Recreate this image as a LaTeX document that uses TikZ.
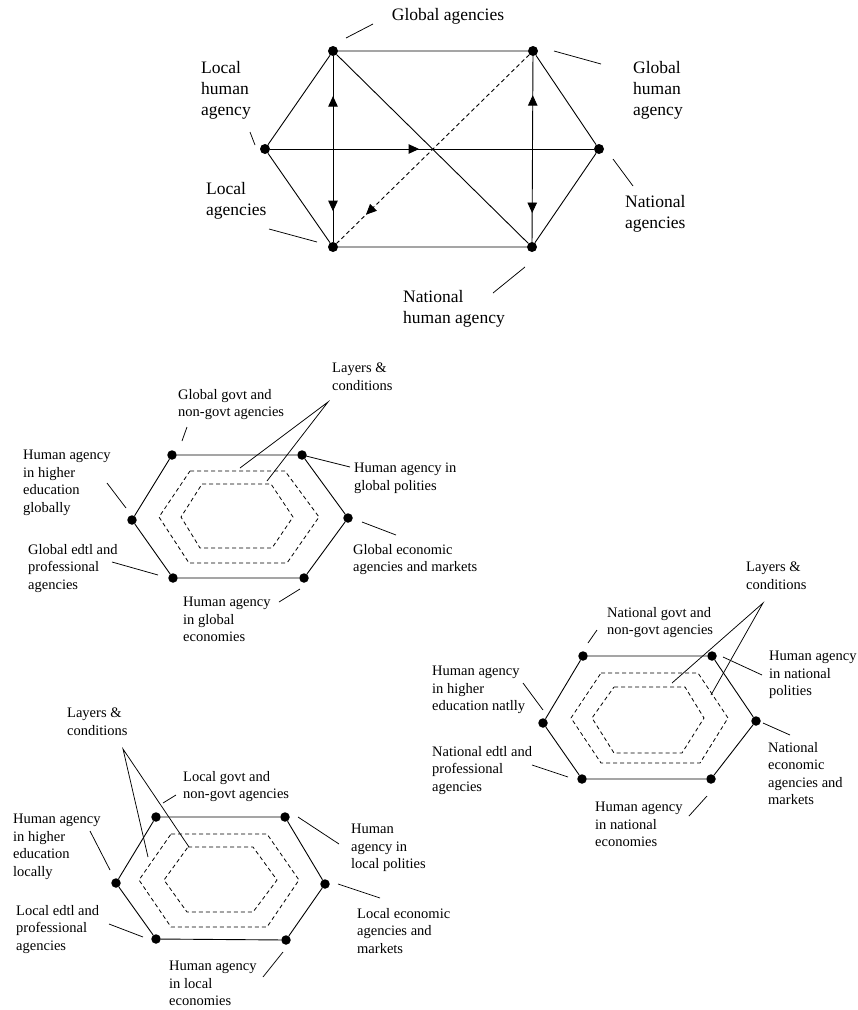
\documentclass[tikz,border=0pt]{standalone}
\usepackage{fontspec}
\setmainfont{Liberation Serif}
\usetikzlibrary{arrows.meta,decorations.markings}

\tikzset{
  dot/.style={circle,fill=black,inner sep=0pt,minimum size=10pt},
  sdot/.style={circle,fill=black,inner sep=0pt,minimum size=9.5pt},
  edge/.style={line width=0.9pt},
  leader/.style={line width=0.75pt},
  layer/.style={line width=0.8pt,dash pattern=on 4pt off 3pt},
  biglabel/.style={font=\fontsize{17.5}{21}\selectfont,inner sep=0pt,align=left,anchor=north west},
  lab/.style={font=\fontsize{14.5}{17.5}\selectfont,inner sep=0pt,align=left,anchor=north west},
  forwardtip/.style={postaction={decorate},decoration={markings,
      mark=at position #1 with {\arrow{Triangle[length=10.5pt,width=9.5pt]}}}},
  twoway/.style 2 args={postaction={decorate},decoration={markings,
      mark=at position #1 with {\arrowreversed{Triangle[length=10.5pt,width=9.5pt]}},
      mark=at position #2 with {\arrow{Triangle[length=10.5pt,width=9.5pt]}}}},
}

\begin{document}
\begin{tikzpicture}[x=1pt,y=-1pt]
\fill[white] (0,0) rectangle (858,1010);
\useasboundingbox (0,0) rectangle (858,1010);

%% ---------------- top: six agencies ----------------
\node[dot] (tl) at (333,51) {};
\node[dot] (tr) at (533,51) {};
\node[dot] (rr) at (599,149) {};
\node[dot] (br) at (532,247) {};
\node[dot] (bl) at (333,247) {};
\node[dot] (ll) at (265,149) {};

\draw[edge] (tl) -- (tr) -- (rr) -- (br) -- (bl) -- (ll) -- (tl);
\draw[edge] (tl) -- (br);
\draw[edge,dash pattern=on 4pt off 3pt,forwardtip=0.848] (tr) -- (bl);
\draw[edge,forwardtip=0.46] (ll) -- (rr);
\draw[edge,twoway={0.215}{0.835}] (tl) -- (bl);
\draw[edge,twoway={0.21}{0.845}] (tr) -- (br);

\node[biglabel,anchor=north] (tga) at (448,8) {Global agencies};
\node[biglabel] (tgha) at (633,61) {Global\\human\\agency};
\node[biglabel] (tlha) at (201,61) {Local\\human\\agency};
\node[biglabel] (tla) at (206,182) {Local\\agencies};
\node[biglabel] (tna) at (625,195) {National\\agencies};
\node[biglabel] (tnha) at (403,290) {National\\human agency};

\coordinate (a1) at (373,24);  \coordinate (a2) at (346,38);
\coordinate (b1) at (554,51);  \coordinate (b2) at (601,64);
\coordinate (c1) at (250,132); \coordinate (c2) at (255,145);
\coordinate (d1) at (269,229); \coordinate (d2) at (317,242);
\coordinate (e1) at (613,159); \coordinate (e2) at (633,186);
\coordinate (f1) at (525,267); \coordinate (f2) at (493,293);
\foreach \p in {a,b,c,d,e,f} \draw[leader] (\p1) -- (\p2);

%% ---------------- global layer ----------------
\node[sdot] (g1) at (172,455) {};
\node[sdot] (g2) at (302,455) {};
\node[sdot] (g3) at (348,518) {};
\node[sdot] (g4) at (304,578) {};
\node[sdot] (g5) at (173,578) {};
\node[sdot] (g6) at (132,520) {};
\draw[edge] (g1) -- (g2) -- (g3) -- (g4) -- (g5) -- (g6) -- (g1);
\draw[layer] (190,471) -- (285,471) -- (319,517) -- (287,563) -- (189,563) -- (159,517) -- cycle;
\draw[layer] (202,484) -- (271,484) -- (293,517) -- (272,548) -- (200,548) -- (181,517) -- cycle;

\node[lab] (gl1) at (332,363) {Layers \&\\conditions};
\node[lab] (gl2) at (178,389) {Global govt and\\non-govt agencies};
\node[lab] (gl3) at (23,450) {Human agency\\in higher\\education\\globally};
\node[lab] (gl4) at (354,463) {Human agency in\\global polities};
\node[lab] (gl5) at (353,544) {Global economic\\agencies and markets};
\node[lab] (gl6) at (28,544) {Global edtl and\\professional\\agencies};
\node[lab] (gl7) at (183,597) {Human agency\\in global\\economies};

\coordinate (gapex) at (328,402);
\coordinate (gx1) at (240,468); \coordinate (gx2) at (267,481);
\draw[leader] (gx1) -- (gapex) -- (gx2);
\coordinate (gk1) at (187,427); \coordinate (gk2) at (182,441);
\coordinate (gm1) at (107,483); \coordinate (gm2) at (126,508);
\coordinate (gn2) at (350,467);
\coordinate (go1) at (362,522); \coordinate (go2) at (396,535);
\coordinate (gq1) at (112,562); \coordinate (gq2) at (158,575);
\coordinate (gr1) at (279,602); \coordinate (gr2) at (300,589);
\draw[leader] (gk1) -- (gk2);
\draw[leader] (gm1) -- (gm2);
\draw[leader] (g2.center) -- (gn2);
\draw[leader] (go1) -- (go2);
\draw[leader] (gq1) -- (gq2);
\draw[leader] (gr1) -- (gr2);

%% ---------------- national layer ----------------
\node[sdot] (n1) at (583,656) {};
\node[sdot] (n2) at (712,656) {};
\node[sdot] (n3) at (756,721) {};
\node[sdot] (n4) at (711,779) {};
\node[sdot] (n5) at (582,779) {};
\node[sdot] (n6) at (543,723) {};
\draw[edge] (n1) -- (n2) -- (n3) -- (n4) -- (n5) -- (n6) -- (n1);
\draw[layer] (601,673) -- (698,673) -- (728,718) -- (700,763) -- (601,763) -- (571,718) -- cycle;
\draw[layer] (614,687) -- (685,687) -- (704,718) -- (682,753) -- (614,753) -- (592,718) -- cycle;

\node[lab] (nl1) at (746,562) {Layers \&\\conditions};
\node[lab] (nl2) at (607,607) {National govt and\\non-govt agencies};
\node[lab] (nl3) at (769,651) {Human agency\\in national\\polities};
\node[lab] (nl4) at (432,666) {Human agency\\in higher\\education natlly};
\node[lab] (nl5) at (768,742) {National\\economic\\agencies and\\markets};
\node[lab] (nl6) at (432,746) {National edtl and\\professional\\agencies};
\node[lab] (nl7) at (595,802) {Human agency\\in national\\economies};

\coordinate (napex) at (763,603);
\coordinate (nx1) at (672,683); \coordinate (nx2) at (711,695);
\draw[leader] (nx1) -- (napex) -- (nx2);
\coordinate (nk1) at (597,630); \coordinate (nk2) at (588,643);
\coordinate (nm1) at (723,657); \coordinate (nm2) at (762,675);
\coordinate (nn1) at (523,683); \coordinate (nn2) at (543,710);
\coordinate (no1) at (763,723); \coordinate (no2) at (790,735);
\coordinate (nq1) at (532,765); \coordinate (nq2) at (568,777);
\coordinate (nr1) at (689,816); \coordinate (nr2) at (707,796);
\foreach \p in {nk,nm,nn,no,nq,nr} \draw[leader] (\p1) -- (\p2);

%% ---------------- local layer ----------------
\node[sdot] (l1) at (156,817) {};
\node[sdot] (l2) at (285,817) {};
\node[sdot] (l3) at (325,884) {};
\node[sdot] (l4) at (286,940) {};
\node[sdot] (l5) at (156,939) {};
\node[sdot] (l6) at (116,883) {};
\draw[edge] (l1) -- (l2) -- (l3) -- (l4) -- (l5) -- (l6) -- (l1);
\draw[layer] (171,834) -- (267,834) -- (299,880) -- (267,927) -- (171,927) -- (139,880) -- cycle;
\draw[layer] (188,847) -- (253,847) -- (277,880) -- (253,912) -- (187,912) -- (164,880) -- cycle;

\node[lab] (ll1) at (67,708) {Layers \&\\conditions};
\node[lab] (ll2) at (183,771) {Local govt and\\non-govt agencies};
\node[lab] (ll3) at (13,814) {Human agency\\in higher\\education\\locally};
\node[lab] (ll4) at (351,824) {Human\\agency in\\local polities};
\node[lab] (ll5) at (357,908) {Local economic\\agencies and\\markets};
\node[lab] (ll6) at (16,905) {Local edtl and\\professional\\agencies};
\node[lab] (ll7) at (169,961) {Human agency\\in local\\economies};

\coordinate (lapex) at (123,749);
\coordinate (lx1) at (148,857); \coordinate (lx2) at (189,847);
\draw[leader] (lx1) -- (lapex) -- (lx2);
\coordinate (lk1) at (176,795); \coordinate (lk2) at (163,803);
\coordinate (lm1) at (90,831);  \coordinate (lm2) at (110,870);
\coordinate (ln1) at (298,817); \coordinate (ln2) at (339,844);
\coordinate (lo1) at (338,884); \coordinate (lo2) at (380,898);
\coordinate (lq1) at (109,924); \coordinate (lq2) at (143,937);
\coordinate (lr1) at (263,977); \coordinate (lr2) at (283,952);
\foreach \p in {lk,lm,ln,lo,lq,lr} \draw[leader] (\p1) -- (\p2);
\end{tikzpicture}
\end{document}
